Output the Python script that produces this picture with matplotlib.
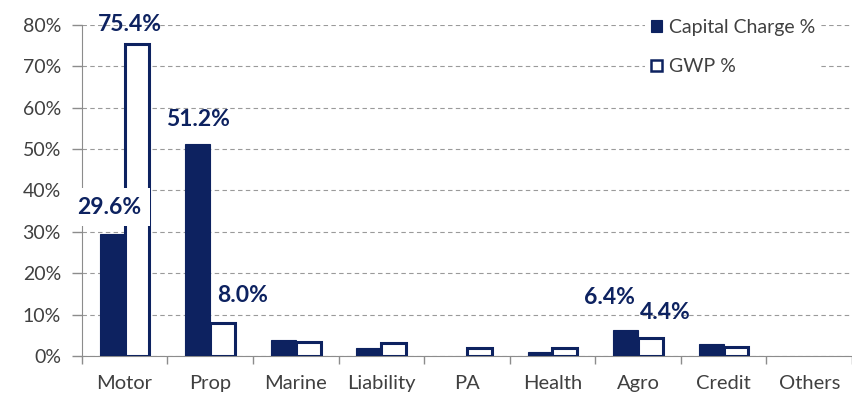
import numpy as np
import matplotlib
matplotlib.use("Agg")
import matplotlib.pyplot as plt
from matplotlib.patches import Patch

# data (percent)
lines = ["Motor", "Prop", "Marine", "Liability", "PA", "Health", "Agro", "Credit", "Others"]
capital_charge = [29.6, 51.2, 3.9, 2.0, 0.0, 1.0, 6.4, 2.9, 0.0]
gwp = [75.4, 8.0, 3.3, 3.1, 1.9, 1.9, 4.4, 2.2, 0.0]

# which bars get a value label: (series, index)
labelled = [("cap", 0), ("gwp", 0), ("cap", 1), ("gwp", 1), ("cap", 6), ("gwp", 6)]

navy = "#0d2260"
grey_txt = "#404040"
plt.rcParams['font.family'] = ['Lato', 'DejaVu Sans']

fig = plt.figure(figsize=(8.52, 3.96), dpi=100)
ax = fig.add_axes([0.096, 0.101, 0.904, 0.836])

x = np.arange(len(lines))
w = 0.29
bars_c = ax.bar(x - w/2, capital_charge, w, color=navy, edgecolor=navy, linewidth=0.8, zorder=3)
bars_g = ax.bar(x + w/2, gwp, w, color="white", edgecolor=navy, linewidth=2.2, zorder=3)
# zero values are not drawn at all in the original
for b in list(bars_c) + list(bars_g):
    if b.get_height() == 0:
        b.set_visible(False)

# label offsets in points (dx, dy) from the bar top centre
offsets = {("cap", 0): (-2, 19), ("gwp", 0): (-5, 14), ("cap", 1): (0, 18),
           ("gwp", 1): (14.5, 19.5), ("cap", 6): (-12, 23), ("gwp", 6): (11, 18)}
for series, i in labelled:
    if series == "cap":
        xc, val = x[i] - w/2, capital_charge[i]
    else:
        xc, val = x[i] + w/2, gwp[i]
    dx, dy = offsets[(series, i)]
    bbox = None
    if (series, i) == ("cap", 0):
        bbox = dict(boxstyle="square,pad=0.38", fc="white", ec="none")
    ax.annotate(f"{val:.1f}%", (xc, val), xytext=(dx, dy), textcoords="offset points",
                ha="center", va="center", fontsize=16.5, fontweight="bold",
                color=navy, zorder=5, annotation_clip=False, bbox=bbox)

ax.set_xlim(-0.5, len(lines) - 0.5)
ax.set_ylim(0, 80)
ax.set_yticks(np.arange(0, 81, 10))
ax.set_yticklabels([f"{v}%" for v in range(0, 81, 10)])
ax.set_xticks(x)
ax.set_xticklabels(lines)
ax.set_xticks(np.arange(-0.5, len(lines) - 0.4, 1), minor=True)
ax.tick_params(axis="x", which="major", length=0, pad=14, labelsize=14.5, labelcolor=grey_txt)
ax.tick_params(axis="x", which="minor", length=6, color="#8c8c8c", width=1)
ax.tick_params(axis="y", length=7, color="#8c8c8c", width=1, labelsize=14,
               labelcolor=grey_txt, pad=8)

ax.grid(axis="y", linestyle=(0, (4, 3)), color="#9a9a9a", linewidth=0.8, zorder=0)
for s in ["top", "right"]:
    ax.spines[s].set_visible(False)
ax.spines["left"].set_color("#8c8c8c")
ax.spines["bottom"].set_color("#8c8c8c")

handles = [Patch(facecolor=navy, edgecolor=navy, linewidth=0.8),
           Patch(facecolor="white", edgecolor=navy, linewidth=1.8)]
leg = ax.legend(handles, ["Capital Charge %", "GWP %"], loc="upper left",
                bbox_to_anchor=(0.719, 1.065), frameon=True, fontsize=14,
                handlelength=0.55, handleheight=0.55, handletextpad=0.35,
                labelspacing=1.15, borderpad=0.3, labelcolor=grey_txt)
leg.get_frame().set_facecolor("white")
leg.get_frame().set_edgecolor("none")
leg.get_frame().set_alpha(1)

fig.savefig("out.png", dpi=100)
